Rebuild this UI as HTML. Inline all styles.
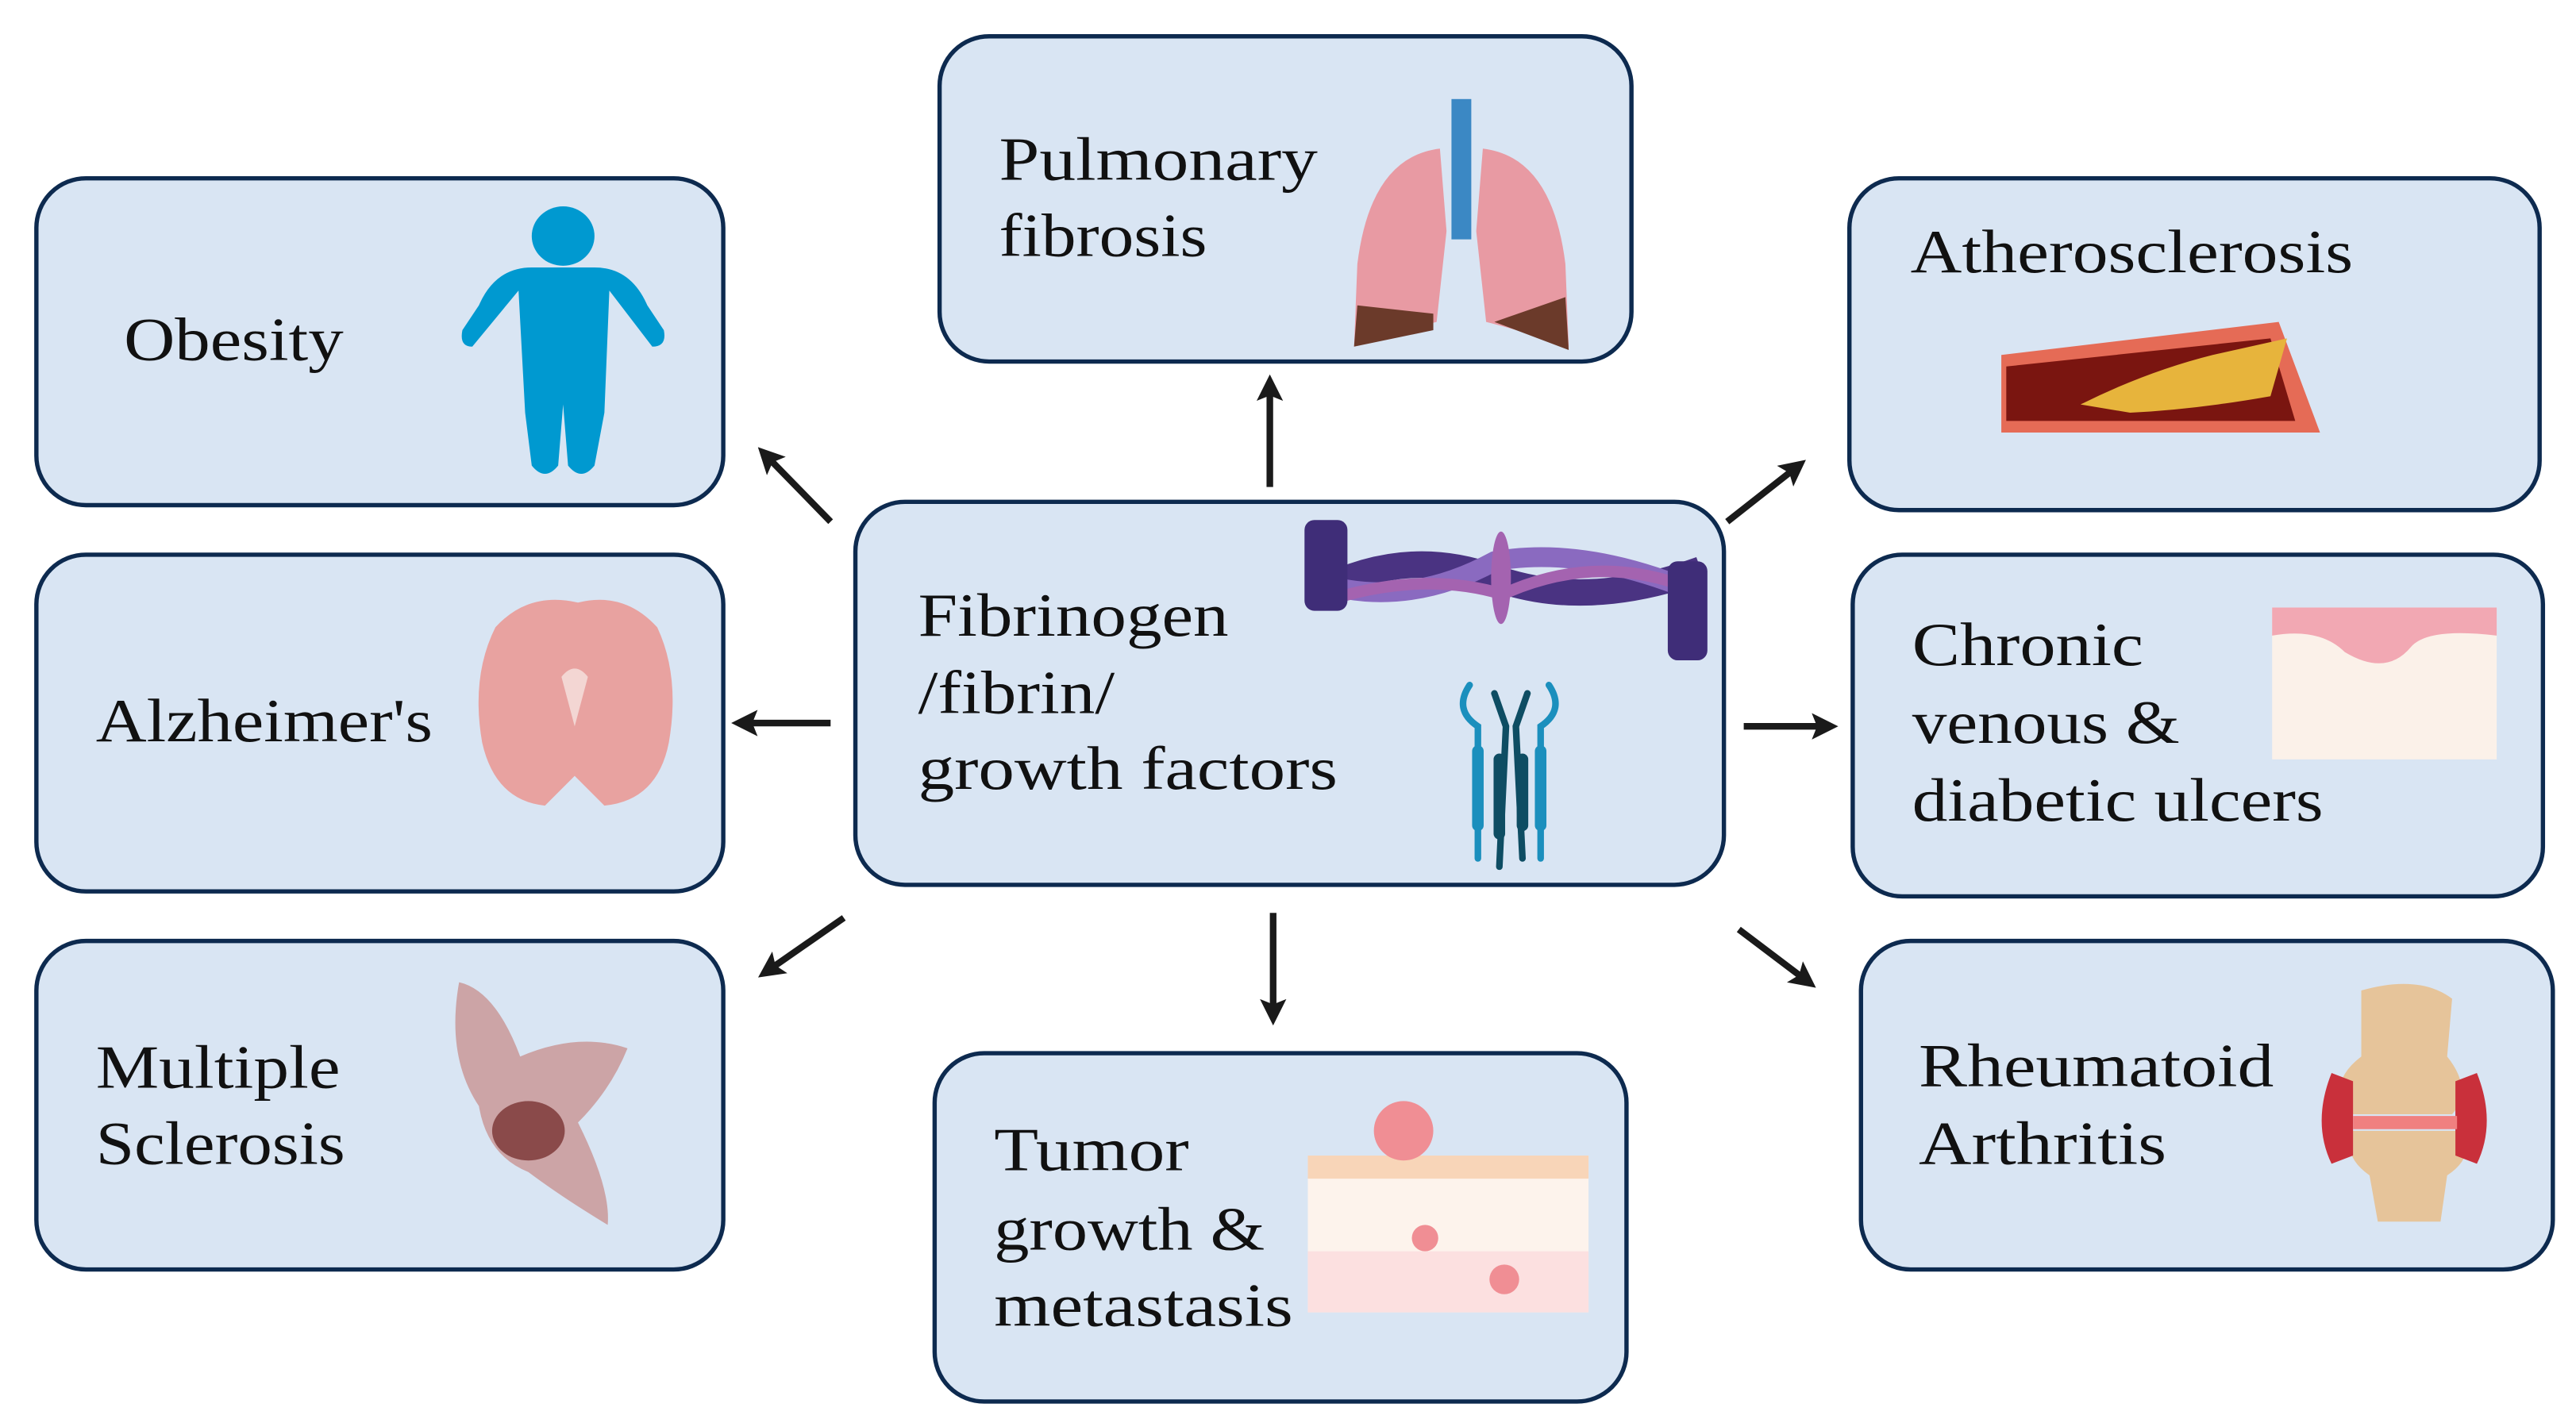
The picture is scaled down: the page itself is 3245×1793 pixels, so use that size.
<!DOCTYPE html>
<html><head><meta charset="utf-8"><style>
html,body{margin:0;padding:0;background:#fff;}
svg{display:block;}
text{font-family:"Liberation Serif",serif;font-size:37px;fill:#111;}
</style></head><body>
<svg width="3245" height="1793" viewBox="0 0 1560 862" xmlns="http://www.w3.org/2000/svg">
<defs>
<marker id="ah" markerWidth="4" markerHeight="4" refX="2.2" refY="2" orient="auto" markerUnits="strokeWidth">
<path d="M0,0 L4,2 L0,4 L0.8,2 Z" fill="#1a1a1a"/></marker>
</defs>
<g fill="#d9e5f3" stroke="#0d2a4f" stroke-width="2.6">
<rect x="22" y="108" width="416" height="198" rx="30"/>
<rect x="569" y="22" width="419" height="197" rx="30"/>
<rect x="1120" y="108" width="418" height="201" rx="30"/>
<rect x="22" y="336" width="416" height="204" rx="30"/>
<rect x="518" y="304" width="526" height="232" rx="30"/>
<rect x="1122" y="336" width="418" height="207" rx="30"/>
<rect x="22" y="570" width="416" height="199" rx="30"/>
<rect x="566" y="638" width="419" height="211" rx="30"/>
<rect x="1127" y="570" width="419" height="199" rx="30"/>
</g>
<g stroke="#1a1a1a" stroke-width="4" fill="none" marker-end="url(#ah)">
<line x1="769" y1="295" x2="769" y2="234"/>
<line x1="503" y1="316" x2="464" y2="276"/>
<line x1="503" y1="438" x2="450" y2="438"/>
<line x1="511" y1="556" x2="465" y2="588"/>
<line x1="771" y1="553" x2="771" y2="614"/>
<line x1="1046" y1="316" x2="1088" y2="283"/>
<line x1="1056" y1="440" x2="1106" y2="440"/>
<line x1="1053" y1="563" x2="1094" y2="594"/>
</g>
<g lengthAdjust="spacingAndGlyphs">
<text x="75" y="218" textLength="133" lengthAdjust="spacingAndGlyphs">Obesity</text>
<text x="605" y="109" textLength="193" lengthAdjust="spacingAndGlyphs">Pulmonary</text><text x="605" y="155" textLength="126" lengthAdjust="spacingAndGlyphs">fibrosis</text>
<text x="1157" y="165" textLength="268" lengthAdjust="spacingAndGlyphs">Atherosclerosis</text>
<text x="58" y="449" textLength="204" lengthAdjust="spacingAndGlyphs">Alzheimer's</text>
<text x="556" y="385" textLength="188" lengthAdjust="spacingAndGlyphs">Fibrinogen</text><text x="556" y="432" textLength="119" lengthAdjust="spacingAndGlyphs">/fibrin/</text><text x="556" y="478" textLength="254" lengthAdjust="spacingAndGlyphs">growth factors</text>
<text x="1158" y="403" textLength="140" lengthAdjust="spacingAndGlyphs">Chronic</text><text x="1158" y="450" textLength="162" lengthAdjust="spacingAndGlyphs">venous &amp;</text><text x="1158" y="497" textLength="249" lengthAdjust="spacingAndGlyphs">diabetic ulcers</text>
<text x="58" y="659" textLength="148" lengthAdjust="spacingAndGlyphs">Multiple</text><text x="58" y="705" textLength="151" lengthAdjust="spacingAndGlyphs">Sclerosis</text>
<text x="602" y="709" textLength="118" lengthAdjust="spacingAndGlyphs">Tumor</text><text x="602" y="757" textLength="164" lengthAdjust="spacingAndGlyphs">growth &amp;</text><text x="602" y="803" textLength="181" lengthAdjust="spacingAndGlyphs">metastasis</text>
<text x="1162" y="658" textLength="215" lengthAdjust="spacingAndGlyphs">Rheumatoid</text><text x="1162" y="705" textLength="150" lengthAdjust="spacingAndGlyphs">Arthritis</text>
</g>
<!-- obesity figure -->
<g fill="#0099d0">
<ellipse cx="341" cy="143" rx="19" ry="18"/>
<path d="M322,162 Q300,162 290,185 L280,200 Q278,210 286,210 L314,176 L318,250 L322,282 Q330,292 338,282 L341,245 L344,282 Q352,292 360,282 L366,250 L369,176 L395,210 Q404,210 402,200 L392,185 Q382,162 360,162 Z"/>
</g>
<!-- lungs -->
<g>
<rect x="879" y="60" width="12" height="85" fill="#3b88c4"/>
<path d="M872,90 Q830,95 822,160 L820,210 Q850,200 870,195 L876,140 Z" fill="#e89aa3"/>
<path d="M898,90 Q940,95 948,160 L950,210 Q920,200 900,195 L894,140 Z" fill="#e89aa3"/>
<path d="M822,185 L868,190 L868,200 L820,210 Z" fill="#6b3a2a"/>
<path d="M948,180 L905,195 L950,212 Z" fill="#6b3a2a"/>
</g>
<!-- artery -->
<g>
<path d="M1212,215 L1380,195 L1405,262 L1212,262 Z" fill="#e56b56"/>
<path d="M1215,222 L1375,205 L1390,255 L1215,255 Z" fill="#7a1510"/>
<path d="M1260,245 Q1300,225 1340,215 L1385,205 L1375,240 Q1330,248 1290,250 Z" fill="#e7b43c"/>
</g>
<!-- brain -->
<g>
<path d="M350,365 Q320,358 300,380 Q285,410 292,450 Q300,485 330,488 L348,470 L366,488 Q398,485 405,450 Q412,410 398,380 Q378,358 350,365 Z" fill="#e8a2a0"/>
<path d="M340,410 L348,440 L356,410 Q348,400 340,410 Z" fill="#f3d6d3"/>
</g>
<!-- fibrin -->
<g>
<path d="M795,360 Q850,330 905,350 Q960,370 1030,345" stroke="#4a3382" stroke-width="16" fill="none"/>
<path d="M795,352 Q850,370 905,340 Q960,330 1030,360" stroke="#8a6ac0" stroke-width="12" fill="none"/>
<path d="M800,365 Q860,345 910,360 Q965,335 1020,355" stroke="#a463b0" stroke-width="7" fill="none"/>
<rect x="790" y="315" width="26" height="55" rx="6" fill="#3f2d78"/>
<rect x="1010" y="340" width="24" height="60" rx="6" fill="#3f2d78"/>
<ellipse cx="909" cy="350" rx="6" ry="28" fill="#a463b0"/>
</g>
<!-- receptors -->
<g stroke-linecap="round" fill="none">
<path d="M890,415 Q880,430 895,440 L895,520" stroke="#1b8fbd" stroke-width="4"/>
<path d="M938,415 Q948,430 933,440 L933,520" stroke="#1b8fbd" stroke-width="4"/>
<path d="M905,420 L912,440 L908,525" stroke="#0e4d63" stroke-width="4"/>
<path d="M925,420 L918,440 L922,520" stroke="#0e4d63" stroke-width="4"/>
<path d="M895,455 L895,500 M933,455 L933,500" stroke="#1b8fbd" stroke-width="7"/>
<path d="M908,460 L908,505 M922,460 L922,500" stroke="#0e4d63" stroke-width="7"/>
</g>
<!-- skin -->
<rect x="1376" y="368" width="136" height="92" fill="#fbf1e9"/>
<path d="M1376,368 L1512,368 L1512,385 Q1470,380 1460,392 Q1445,410 1420,395 Q1405,380 1376,385 Z" fill="#f2a8b3"/>
<!-- MS lesion -->
<path d="M278,595 Q300,600 315,640 Q350,625 380,635 Q370,660 350,680 Q370,720 368,742 Q340,725 320,710 Q295,700 290,670 Q270,640 278,595 Z" fill="#c89492" opacity="0.8"/>
<ellipse cx="320" cy="685" rx="22" ry="18" fill="#8a4a4a"/>
<!-- tumor -->
<rect x="792" y="700" width="170" height="95" fill="#fdf3ec"/>
<rect x="792" y="700" width="170" height="14" fill="#f8d5b8"/>
<rect x="792" y="758" width="170" height="37" fill="#fce0e0"/>
<circle cx="850" cy="685" r="18" fill="#f08e94"/>
<circle cx="863" cy="750" r="8" fill="#f08e94"/>
<circle cx="911" cy="775" r="9" fill="#f08e94"/>
<!-- knee -->
<g>
<path d="M1430,600 Q1465,590 1485,605 L1482,640 Q1498,660 1485,675 L1420,675 Q1410,655 1430,640 Z" fill="#e6c49a"/>
<path d="M1425,685 L1490,685 Q1500,700 1482,712 L1478,740 L1440,740 L1435,712 Q1418,700 1425,685 Z" fill="#e6c49a"/>
<path d="M1412,650 Q1400,680 1412,705 L1425,700 L1425,655 Z M1500,650 Q1512,680 1500,705 L1487,700 L1487,655 Z" fill="#c9303b"/>
<path d="M1425,676 L1488,676 L1488,684 L1425,684 Z" fill="#f08080"/>
</g>
</svg>
</body></html>
